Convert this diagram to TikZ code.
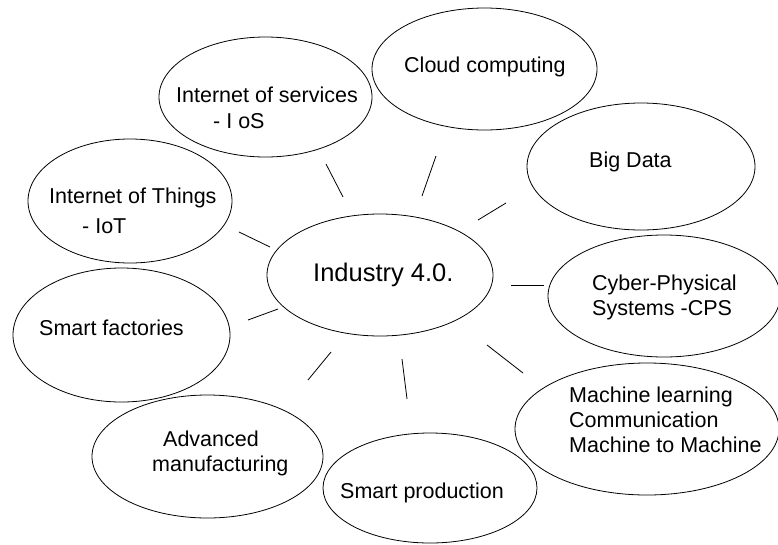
\documentclass[tikz,border=0pt]{standalone}
\usepackage{fontspec}
\setmainfont{Liberation Sans}
\usetikzlibrary{shapes.geometric}
% multi-line caption whose base anchor is the first line's baseline
\newcommand\stacked[1]{\begin{tabular}[t]{@{}l@{}}#1\end{tabular}}
\begin{document}
\begin{tikzpicture}[x=1pt,y=-1pt,
  bubble/.style={draw=black, line width=0.8pt, ellipse, inner sep=0pt},
  caption/.style={anchor=base west, inner sep=0pt, font=\fontsize{21.5}{25}\selectfont},
  spoke/.style={draw=black, line width=0.8pt}]
\useasboundingbox[fill=white] (0,0) rectangle (778,544);

% ellipses
\node[bubble, minimum width=226pt, minimum height=122pt] (hub)   at (380,275)   {};
\node[bubble, minimum width=225pt, minimum height=122pt] (cloud) at (484.5,69)  {};
\node[bubble, minimum width=213pt, minimum height=120pt] (ios)   at (265.5,97)  {};
\node[bubble, minimum width=228pt, minimum height=127pt] (big)   at (641,166.5) {};
\node[bubble, minimum width=204pt, minimum height=124pt] (iot)   at (130,201)   {};
\node[bubble, minimum width=232pt, minimum height=122pt] (cps)   at (664,296)   {};
\node[bubble, minimum width=217pt, minimum height=134pt] (sf)    at (121.5,335) {};
\node[bubble, minimum width=264pt, minimum height=132pt] (ml)    at (647,429)   {};
\node[bubble, minimum width=231pt, minimum height=123pt] (am)    at (207.5,456.5) {};
\node[bubble, minimum width=214pt, minimum height=110pt] (sp)    at (430,488)   {};

% captions
\node[caption, font=\fontsize{25.5}{30}\selectfont] (hubtxt) at (313,281) {Industry 4.0.};
\node[caption] (cloudtxt) at (404,72)  {Cloud computing};
\node[caption] (iostxt)   at (176,102) {\stacked{Internet of services\\[1pt]\hspace{37pt}- I oS}};
\node[caption] (bigtxt)   at (589,167) {Big Data};
\node[caption] (iottxt)   at (49,203)  {\stacked{Internet of Things\\[5pt]\hspace{33pt}- IoT}};
\node[caption] (cpstxt)   at (592,290) {\stacked{Cyber-Physical\\Systems -CPS}};
\node[caption] (sftxt)    at (39,335)  {Smart factories};
\node[caption] (mltxt)    at (569,402) {\stacked{Machine learning\\Communication\\Machine to Machine}};
\node[caption] (amtxt)    at (152,446) {\stacked{\hspace{11pt}Advanced\\manufacturing}};
\node[caption] (sptxt)    at (340,498) {Smart production};

% short spokes around the hub
\coordinate (s1a) at (326,164); \coordinate (s1b) at (343,197);
\coordinate (s2a) at (436,156); \coordinate (s2b) at (422,196);
\coordinate (s3a) at (506,203); \coordinate (s3b) at (478,220);
\coordinate (s4a) at (239,232); \coordinate (s4b) at (270,247);
\coordinate (s5a) at (511,285); \coordinate (s5b) at (544,285);
\coordinate (s6a) at (248,320); \coordinate (s6b) at (278,309);
\coordinate (s7a) at (308,380); \coordinate (s7b) at (331,352);
\coordinate (s8a) at (402,359); \coordinate (s8b) at (407,399);
\coordinate (s9a) at (487,345); \coordinate (s9b) at (523,373);
\foreach \i in {1,...,9} \draw[spoke] (s\i a) -- (s\i b);
\end{tikzpicture}
\end{document}
